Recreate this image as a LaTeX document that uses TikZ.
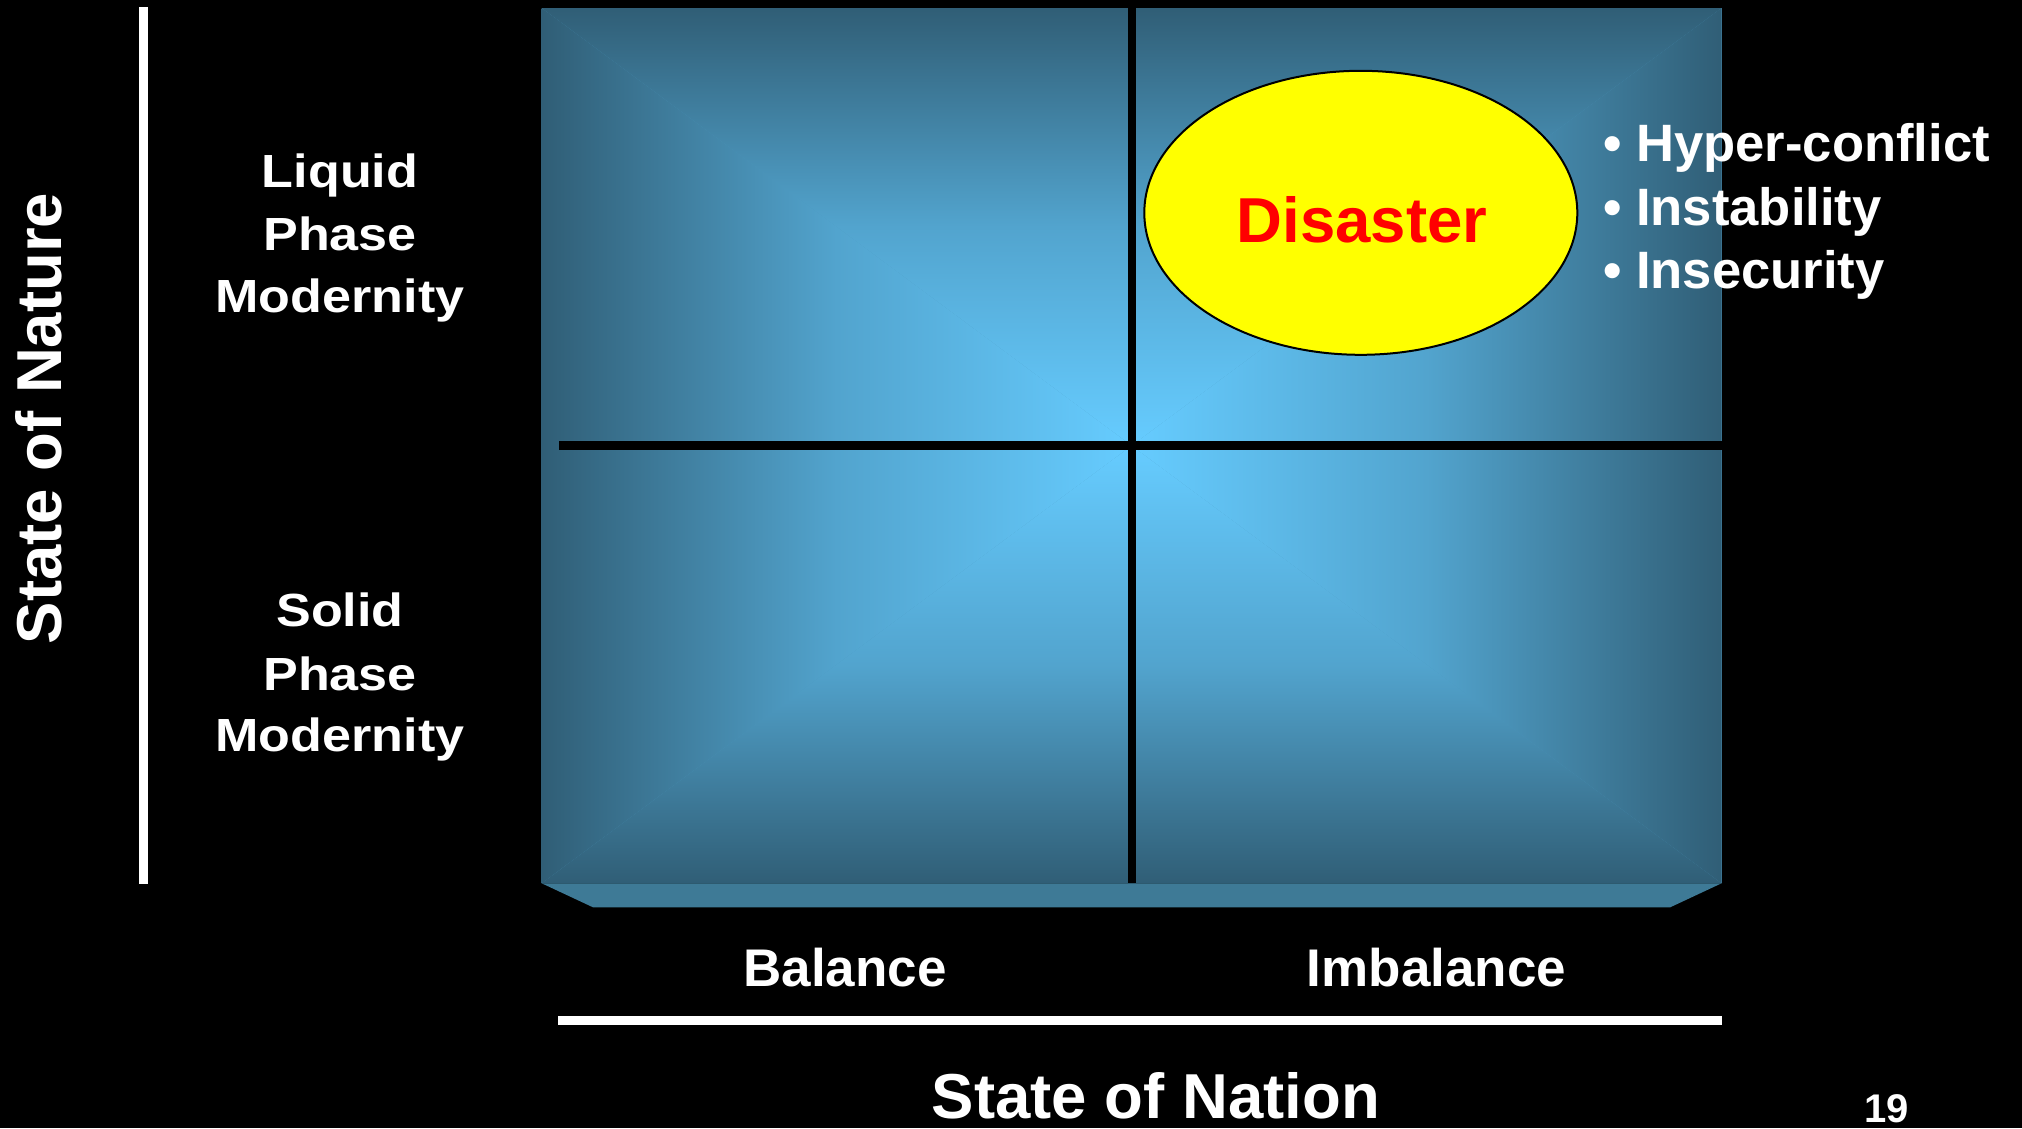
\documentclass[tikz,border=0pt]{standalone}
\usepackage{fontspec}
\setmainfont{Liberation Sans}
\newfontfamily\widefont{Liberation Sans}[FakeStretch=1.12]
\usetikzlibrary{shapes.geometric}
\definecolor{edgeblue}{RGB}{48,94,118}
\definecolor{midblue}{RGB}{82,164,206}
\definecolor{centerblue}{RGB}{102,204,255}
\definecolor{bevelblue}{RGB}{62,122,150}
\definecolor{pureyellow}{RGB}{255,255,0}
\begin{document}
\begin{tikzpicture}[x=1pt,y=-1pt,
  lbl/.style={text=white, inner sep=0, anchor=base, font=\bfseries\fontsize{53}{63}\selectfont},
  axis/.style={text=white, inner sep=0, anchor=base, font=\bfseries\fontsize{63.5}{72}\selectfont},
  phase/.style={text=white, inner sep=0, anchor=base, font=\widefont\bfseries\fontsize{46.5}{56}\selectfont},
  bullet/.style={text=white, inner sep=0, anchor=base west, font=\bfseries\fontsize{52.6}{63}\selectfont},
  divider/.style={black, line width=8},
  axisline/.style={white, line width=9}]
\useasboundingbox (0,0) rectangle (2022,1128);
\fill[black] (0,0) rectangle (2022,1128);
% panel
\coordinate (TL) at (541.7,8);
\coordinate (TR) at (1721.5,8);
\coordinate (BL) at (541.7,883.3);
\coordinate (BR) at (1721.5,883.3);
\coordinate (C) at (1131.6,445.6);
\fill[midblue!85!edgeblue] (TL) rectangle (BR);
\shade[top color=edgeblue, bottom color=centerblue, middle color=midblue] (TL) -- (TR) -- (C) -- cycle;
\shade[bottom color=edgeblue, top color=centerblue, middle color=midblue] (BL) -- (BR) -- (C) -- cycle;
\shade[left color=edgeblue, right color=centerblue, middle color=midblue] (TL) -- (BL) -- (C) -- cycle;
\shade[right color=edgeblue, left color=centerblue, middle color=midblue] (TR) -- (BR) -- (C) -- cycle;
\fill[bevelblue] (BL) -- (BR) -- (1670.2,907.3) -- (593,907.3) -- cycle;
% quadrant lines
\draw[divider] (1131.6,8) -- (1131.6,883.3);
\draw[divider, line width=9] (559,445.6) -- (1721.5,445.6);
% axis lines
\draw[axisline] (143.5,7) -- (143.5,884);
\draw[axisline] (558,1020.5) -- (1721.5,1020.5);
% disaster ellipse
\node[ellipse, draw=black, line width=2, fill=pureyellow, minimum width=433, minimum height=284, inner sep=0] (disasterShape) at (1360.8,212.8) {};
\node[text=red, inner sep=0, anchor=base, font=\bfseries\fontsize{63.5}{72}\selectfont] (disaster) at (1362,242) {Disaster};
% bullets
\node[bullet] (b1) at (1603,161.7) {• Hyper-conflict};
\node[bullet] (b2) at (1603,225) {• Instability};
\node[bullet] (b3) at (1603,288) {• Insecurity};
% row labels
\node[phase] (l1) at (340,187.3) {Liquid};
\node[phase] (l2) at (340,250.7) {Phase};
\node[phase] (l3) at (340,312.7) {Modernity};
\node[phase] (s1) at (340,626) {Solid};
\node[phase] (s2) at (340,690) {Phase};
\node[phase] (s3) at (340,751) {Modernity};
% column labels
\node[lbl] (bal) at (845,986) {Balance};
\node[lbl] (imbal) at (1436.5,986) {Imbalance};
% axis titles
\node[axis] (nation) at (1156,1118) {State of Nation};
\node[axis, rotate=90] (nature) at (61.7,418.5) {State of Nature};
% page number
\node[text=white, inner sep=0, anchor=base, font=\bfseries\fontsize{40}{48}\selectfont] (page) at (1886.5,1122) {19};
\end{tikzpicture}
\end{document}
